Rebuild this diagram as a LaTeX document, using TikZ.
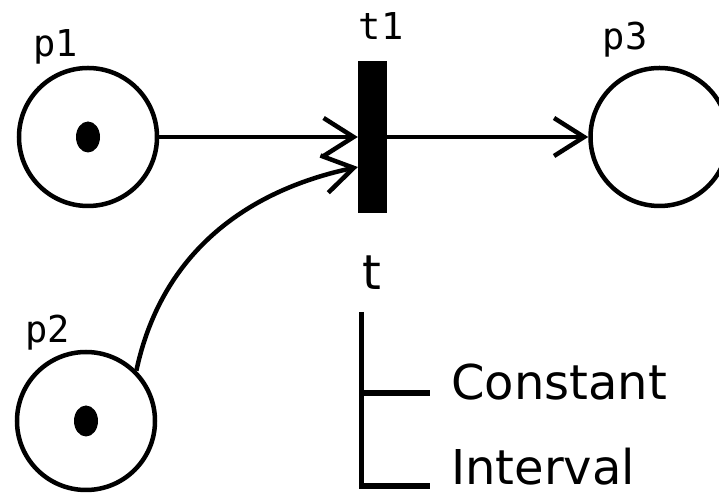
\documentclass[tikz,border=0pt]{standalone}
\usepackage{fontspec}
\setmainfont{DejaVu Sans}
\newfontfamily\labelfont{DejaVu Sans Mono}
\usetikzlibrary{arrows.meta, positioning, shapes.geometric}

\begin{document}
\begin{tikzpicture}[x=1pt, y=1pt,
    place/.style={draw, circle, line width=4.5pt, minimum size=138pt, inner sep=0pt},
    token/.style={fill, ellipse, minimum width=24pt, minimum height=31pt, inner sep=0pt},
    trans/.style={fill, rectangle, minimum width=29pt, minimum height=152pt, inner sep=0pt},
    lbl/.style={font=\labelfont\fontsize{37}{40}\selectfont, inner sep=0pt},
    big/.style={font=\fontsize{48}{52}\selectfont, inner sep=0pt},
    arc/.style={line width=4.5pt, -{Straight Barb[length=30pt, width=38pt]}},
    branch/.style={line width=5.5pt}]
    \clip (0,0) rectangle (719,494);

    % places, tokens and the transition
    \node[place] (p1) at (88,357) {};
    \node[place] (p2) at (86,73) {};
    \node[place] (p3) at (659.5,357) {};
    \node[trans] (t1) at (372.5,357) {};
    \node[token] (k1) at (p1) {};
    \node[token] (k2) at (p2) {};

    \node[lbl] (p1lbl) at (55.5,447.5) {p1};
    \node[lbl] (p2lbl) at (47.5,161.5) {p2};
    \node[lbl] (p3lbl) at (625,454) {p3};
    \node[lbl] (t1lbl) at (381,467.5) {t1};

    % arcs
    \draw[arc] (p1) -- (t1);
    \draw[arc] (t1) -- (p3);
    \draw[arc] (p2.45) to[out=78, in=192] ([yshift=-30pt]t1.west);

    % kinds of t
    \node[big] (tt) at (372,221.5) {t};
    \node[big, anchor=base west] (const) at (451,94.5) {Constant};
    \node[big, anchor=base west] (intv) at (451,9) {Interval};
    \coordinate (brtop) at (361.5,182);
    \coordinate (cend) at (430,101);
    \coordinate (iend) at (430,8);
    \draw[branch] (brtop) |- (iend);
    \draw[branch] (brtop |- cend) -- (cend);
\end{tikzpicture}
\end{document}
